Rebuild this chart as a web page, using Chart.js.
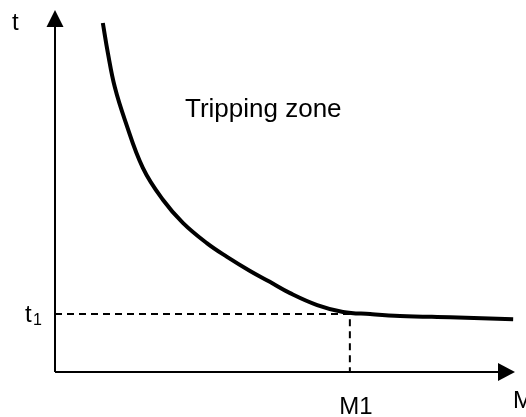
<!DOCTYPE html>
<html>
<head>
<meta charset="utf-8">
<script src="https://cdn.jsdelivr.net/npm/chart.js@4.4.0/dist/chart.umd.min.js"></script>
<style>
  html, body { margin: 0; padding: 0; background: #fff; }
  #wrap { width: 526px; height: 417px; position: relative; }
</style>
</head>
<body>
<div id="wrap"><canvas id="trip"></canvas></div>
<script>
// tripping curve t(M), arbitrary units (axis 0..10 on both sides)
const curveM = [1.04, 1.15, 1.30, 1.52, 1.91, 2.35, 2.78, 3.30, 3.74, 4.24, 4.67, 5.11, 5.70, 6.26, 6.85, 7.50, 8.59, 9.96];
const curveT = [9.64, 8.81, 7.87, 6.96, 5.64, 4.75, 4.12, 3.56, 3.18, 2.79, 2.49, 2.18, 1.85, 1.66, 1.60, 1.55, 1.51, 1.46];
const M1 = 6.41;
const t1 = 1.6;
const axisMax = [10, 10];

const curvePts = curveM.map((m, i) => ({ x: m, y: curveT[i] }));

const FONT = '"Liberation Sans", Arial, sans-serif';

/* ejes con flechas y textos */
const axesPlugin = {
  id: "axesArrows",
  beforeDatasetsDraw(chart) {
    const c = chart.ctx;
    const xs = chart.scales.x, ys = chart.scales.y;
    const x0 = xs.getPixelForValue(0), y0 = ys.getPixelForValue(0);
    const xe = xs.getPixelForValue(axisMax[0]), ye = ys.getPixelForValue(axisMax[1]);
    c.save();
    c.strokeStyle = "#000";
    c.fillStyle = "#000";
    c.lineWidth = 2;
    c.beginPath();
    c.moveTo(x0, y0); c.lineTo(x0, ye + 14);
    c.moveTo(x0, y0); c.lineTo(xe - 14, y0);
    c.stroke();
    // flecha vertical
    c.beginPath();
    c.moveTo(x0, ye); c.lineTo(x0 - 8.5, ye + 17); c.lineTo(x0 + 8.5, ye + 17); c.closePath();
    c.fill();
    // flecha horizontal
    c.beginPath();
    c.moveTo(xe, y0); c.lineTo(xe - 17, y0 - 9); c.lineTo(xe - 17, y0 + 9); c.closePath();
    c.fill();
    c.restore();
  },
  afterDraw(chart) {
    const c = chart.ctx;
    const xs = chart.scales.x, ys = chart.scales.y;
    c.save();
    c.fillStyle = "#000";
    c.textBaseline = "alphabetic";
    c.textAlign = "left";
    c.font = "24px " + FONT;
    c.fillText("t", 12, 30);
    const ty = ys.getPixelForValue(t1);
    c.fillText("t", 25, ty + 8);
    c.font = "16px " + FONT;
    c.fillText("1", 33, ty + 11);
    c.font = "24px " + FONT;
    c.textAlign = "center";
    c.fillText("M1", xs.getPixelForValue(M1) + 6, 414);
    c.textAlign = "left";
    c.fillText("M", 513, 408);
    c.font = "26px " + FONT;
    c.fillText("Tripping zone", 185, 117);
    c.restore();
  }
};

const ctx = document.getElementById("trip");
new Chart(ctx, {
  type: "line",
  data: {
    datasets: [
      {
        data: curvePts,
        borderColor: "#000",
        borderWidth: 4,
        pointRadius: 0,
        tension: 0.4,
        fill: false,
      },
      {
        data: [{ x: 0, y: t1 }, { x: M1, y: t1 }, { x: M1, y: 0 }],
        borderColor: "#000",
        borderWidth: 2,
        borderDash: [7, 5],
        pointRadius: 0,
        tension: 0,
        fill: false,
      },
    ],
  },
  options: {
    responsive: true,
    maintainAspectRatio: false,
    animation: false,
    layout: { padding: { left: 55, right: 11, top: 10, bottom: 45 } },
    plugins: { legend: { display: false }, tooltip: { enabled: false } },
    scales: {
      x: { type: "linear", min: 0, max: axisMax[0], display: false },
      y: { type: "linear", min: 0, max: axisMax[1], display: false },
    },
  },
  plugins: [axesPlugin],
});
</script>
</body>
</html>
